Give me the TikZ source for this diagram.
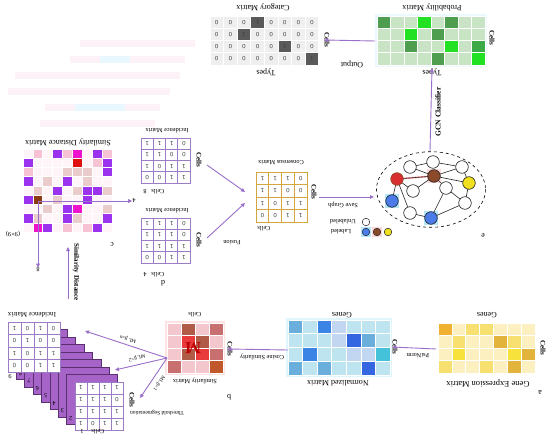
\documentclass[tikz,border=0pt]{standalone}
\usepackage{fontspec}
\setmainfont{Liberation Serif}
\newfontfamily\numfont{Liberation Sans}
\usetikzlibrary{arrows.meta,calc}
\definecolor{arr}{HTML}{9A6FC9}
\definecolor{catlight}{HTML}{EFEFEF}
\definecolor{catdark}{HTML}{5A5A5A}
\definecolor{pr0}{HTML}{C8E4C4}
\definecolor{pr1}{HTML}{4F9D4F}
\definecolor{pr2}{HTML}{22E022}
\definecolor{pr3}{HTML}{3DAA48}
\definecolor{sd0}{HTML}{FFF4F7}
\definecolor{sd1}{HTML}{9A32EE}
\definecolor{sd2}{HTML}{EE12CC}
\definecolor{sd3}{HTML}{F6C2D4}
\definecolor{sd4}{HTML}{EACCCC}
\definecolor{sd5}{HTML}{E01010}
\definecolor{sd6}{HTML}{8B3A12}
\definecolor{sm0}{HTML}{F4C6CE}
\definecolor{sm1}{HTML}{B05A48}
\definecolor{sm2}{HTML}{E83A3A}
\definecolor{sm3}{HTML}{C87070}
\definecolor{sm4}{HTML}{C0582C}
\definecolor{nm0}{HTML}{BEE4F0}
\definecolor{nm1}{HTML}{6AAEDC}
\definecolor{nm2}{HTML}{3A84E6}
\definecolor{nm3}{HTML}{C2D6F2}
\definecolor{nm4}{HTML}{3366E0}
\definecolor{nm5}{HTML}{44C2DA}
\definecolor{ge0}{HTML}{FDF0C0}
\definecolor{ge1}{HTML}{F0B030}
\definecolor{ge2}{HTML}{F8E070}
\definecolor{ge3}{HTML}{F7E23C}
\definecolor{ge4}{HTML}{E2B43C}
\definecolor{incb}{HTML}{9C7CC4}
\definecolor{conb}{HTML}{D4A640}
\definecolor{stk}{HTML}{A664C8}
\definecolor{stke}{HTML}{5A3070}
\definecolor{gblue}{HTML}{4A7BE8}
\definecolor{gbrown}{HTML}{8B4A2A}
\definecolor{gyellow}{HTML}{F0E020}
\definecolor{gred}{HTML}{D83030}
\newcommand\cgrid[6]{%
  \foreach \row [count=\j from 0] in {#6}{%
    \foreach \v [count=\i from 0] in \row {%
      \filldraw[fill=#5\v,draw=white,line width=0.7pt] ({#1+\i*#3},{#2+\j*#4}) rectangle ++(#3,#4);
    }}}
\newcommand\ngrid[7]{%
  \foreach \row [count=\j from 0] in {#7}{%
    \foreach \v [count=\i from 0] in \row {%
      \draw[draw=#6,fill=white,line width=0.6pt] ({#2+\i*#4},{#3+\j*#5}) rectangle ++(#4,#5);
      \node[num] (#1-\j-\i) at ({#2+(\i+0.5)*#4},{#3+(\j+0.5)*#5}) {\v};
    }}}
\begin{document}
\begin{tikzpicture}[x=1pt,y=-1pt,
  lbl/.style={rotate=180,font=\fontsize{8}{9}\selectfont,inner sep=0pt},
  slbl/.style={rotate=180,font=\fontsize{6.3}{7}\selectfont,inner sep=0pt},
  vlbl/.style={rotate=-90,font=\fontsize{7}{8}\selectfont\bfseries,inner sep=0pt},
  num/.style={rotate=180,font=\numfont\fontsize{6}{7}\selectfont,text=black!75,inner sep=0pt},
  flow/.style={draw=arr,line width=0.9pt,-{Triangle[length=4pt,width=3.6pt]}},
  gnode/.style={circle,draw=black!85,line width=0.6pt,minimum size=12.6pt,inner sep=0pt},
  lnode/.style={circle,draw=black!85,line width=0.5pt,minimum size=7.6pt,inner sep=0pt},
  gedge/.style={draw=black!85,line width=0.6pt}]
\useasboundingbox (0,0) rectangle (550,436);
\fill[white] (0,0) rectangle (550,436);

% faint ghost bars (top left)
\fill[magenta!5] (80,40) rectangle (195,47);
\fill[magenta!5] (70,56) rectangle (185,63);
\fill[cyan!9] (100,56) rectangle (130,63);
\fill[magenta!5] (15,72) rectangle (180,79);
\fill[magenta!5] (8,88) rectangle (170,95);
\fill[magenta!5] (45,104) rectangle (160,111);
\fill[cyan!9] (75,104) rectangle (125,111);
\fill[magenta!5] (40,120) rectangle (155,127);

% ---------- Category matrix ----------
\foreach \row [count=\j from 0] in {{0,0,0,1,0,0,0,0},{0,0,1,0,0,0,0,0},{0,0,0,0,0,1,0,0},{0,0,0,0,0,0,0,1}}{
  \foreach \v [count=\i from 0] in \row {
    \ifnum\v=1 \def\fc{catdark}\else\def\fc{catlight}\fi
    \filldraw[fill=\fc,draw=white,line width=0.8pt] ({210+\i*13.6},{16+\j*12.25}) rectangle ++(13.6,12.25);
    \node[num] (cat-\j-\i) at ({210+(\i+0.5)*13.6},{16+(\j+0.5)*12.25}) {\v};
  }}
\node[lbl] (catT) at (263,7) {Category Matrix};
\node[lbl] (catTy) at (266,72) {Types};
\node[vlbl] (catC) at (327,40) {Cells};
\node[lbl] (outL) at (352,64) {Output};

% ---------- Probability matrix ----------
\fill[cyan!8] (375,14) rectangle (487,67);
\cgrid{377}{16}{13.5}{12.25}{pr}{{1,0,0,2,0,1,0,0},{0,0,2,0,1,0,0,0},{0,0,1,0,0,2,0,3},{0,0,0,0,1,0,0,2}}
\node[lbl] (prT) at (432,7) {Probability Matrix};
\node[lbl] (prTy) at (432,72) {Types};
\node[vlbl] (prC) at (492,38) {Cells};
\coordinate (prL) at (375,41);
\draw[flow] (prL) -- (catC.south);

% ---------- Graph e ----------
\coordinate (gcnS) at (430,151);
\draw[flow] (gcnS) -- (prTy.south);
\node[rotate=90,font=\fontsize{7.5}{8}\selectfont\bfseries,inner sep=0pt] (gcnL) at (438,112) {GCN Classifier};
\draw[dashed,line width=0.6pt] (431,189.5) ellipse [x radius=54.5,y radius=37.8];
\fill[pink!60] (427,169) rectangle (441,183);
\fill[cyan!30] (385,194) rectangle (399,208);
\fill[cyan!30] (424,211) rectangle (438,225);
\coordinate (n1) at (410,167);
\coordinate (n2) at (433,162);
\coordinate (n3) at (462,167);
\coordinate (nr) at (397,179);
\coordinate (nb) at (434,176);
\coordinate (ny) at (469,183);
\coordinate (n5) at (413,191);
\coordinate (n6) at (446,188);
\coordinate (nl1) at (392,201);
\coordinate (n4) at (410,213);
\coordinate (n7) at (465,203);
\coordinate (nl2) at (431,218);
\draw[pink!80!red,line width=1.6pt] (nr) -- (nb);
\draw[gedge] (n1)--(n2) (n2)--(n3) (n1)--(nb) (nr)--(nb) (nr)--(nl1) (nr)--(n4) (nr)--(n5)
  (nb)--(n5) (nb)--(ny) (n3)--(ny) (n3)--(nb) (ny)--(n7) (n6)--(nl2) (n4)--(nl2) (n7)--(nl2) (nb)--(n6) (n6)--(n7);
\node[gnode,fill=white] (g1) at (n1) {};
\node[gnode,fill=white] (g2) at (n2) {};
\node[gnode,fill=white] (g3) at (n3) {};
\node[gnode,fill=gred,draw=gbrown] (gr) at (nr) {};
\node[gnode,fill=gbrown] (gb) at (nb) {};
\node[gnode,fill=gyellow] (gy) at (ny) {};
\node[gnode,fill=white] (g5) at (n5) {};
\node[gnode,fill=white] (g6) at (n6) {};
\node[gnode,fill=gblue] (gl1) at (nl1) {};
\node[gnode,fill=white] (g4) at (n4) {};
\node[gnode,fill=white] (g7) at (n7) {};
\node[gnode,fill=gblue] (gl2) at (nl2) {};
\node[lbl] (eL) at (483,235) {e};
% legend
\fill[cyan!30] (361,227) rectangle (371,237);
\fill[pink!60] (372,227) rectangle (382,237);
\node[lnode,fill=white] (lu) at (366,222) {};
\node[lnode,fill=gblue] (lb) at (366,232) {};
\node[lnode,fill=gbrown] (lbr) at (377,232) {};
\node[lnode,fill=gyellow] (ly) at (388,232) {};
\node[slbl] (luT) at (343,222) {Unlabeled};
\node[slbl] (lbT) at (341,232) {Labeled};

% ---------- Consensus matrix ----------
\ngrid{con}{256}{172}{12.75}{12.5}{conb}{{1,1,1,0},{1,1,0,0},{1,0,1,1},{0,0,1,1}}
\node[slbl] (conT) at (281,163) {Consensus Matrix};
\node[slbl] (conB) at (264,229) {Cells};
\node[vlbl] (conC) at (314,192) {Cells};
\coordinate (ellL) at (374,197);
\draw[flow] ($(conC.north)+(2,5)$) -- (ellL);
\node[slbl] (saveL) at (343,205) {Save Graph};

% ---------- Incidence matrices d ----------
\ngrid{inA}{141}{138}{12.25}{11.25}{incb}{{1,1,1,0},{1,1,0,0},{1,0,1,1},{0,0,1,1}}
\node[slbl] (inAT) at (167,131) {Incidence Matrix};
\node[vlbl] (inAC) at (199,160) {Cells};
\node[slbl] (inAB) at (158,192) {Cells};
\node[slbl] (inAN) at (145,192) {8};
\ngrid{inB}{141}{218}{12.25}{11.25}{incb}{{1,1,1,0},{1,1,1,0},{1,1,1,1},{0,0,1,1}}
\node[slbl] (inBT) at (167,211) {Incidence Matrix};
\node[vlbl] (inBC) at (199,240) {Cells};
\node[slbl] (inBB) at (158,275) {Cells};
\node[slbl] (inBN) at (145,275) {4};
\node[lbl] (dL) at (163,283) {d};
\coordinate (conIn1) at (245,192);
\coordinate (conIn2) at (245,203);
\draw[flow] (207,165) -- (conIn1);
\draw[flow] (207,238) -- (conIn2);
\node[slbl] (fusL) at (232,243) {Fusion};

% ---------- Similarity distance matrix c ----------
\cgrid{23}{149}{9.9}{9.25}{sd}{{0,3,0,1,3,2,0,1,3},{1,0,0,0,0,5,0,3,1},{3,0,0,0,4,4,4,0,1},{1,0,4,0,1,0,4,0,0},{0,4,0,1,0,4,1,1,4},{1,6,0,4,0,0,1,0,0},{0,0,4,0,1,2,0,0,4},{1,4,0,0,1,4,0,0,1},{0,2,1,0,3,0,3,1,0}}
\node[lbl] (sdT) at (68,142) {Similarity Distance Matrix};
\coordinate (sdc) at (38,201);
\node[slbl] (sd4) at (134,201) {4};
\node[slbl] (sd8) at (38,270) {8};
\draw[flow] (sdc) -- (sd4.east);
\draw[flow] (sdc) -- (sd8.south);
\node[slbl] (sd99) at (13,234) {(9×9)};
\node[lbl] (cL) at (112,244) {c};

% ---------- Stack (threshold segmentation) ----------
\foreach \k in {8,7,...,2} {
  \pgfmathsetmacro\lx{8+(9-\k)*8.375}
  \pgfmathsetmacro\ly{322+(9-\k)*7.5}
  \filldraw[fill=stk,draw=stke,line width=0.6pt] (\lx,\ly) rectangle ++(51,50);
  \node[slbl] (lay\k) at (\lx+4.2,\ly+44) {\k};
}
\ngrid{m1}{75}{382}{12}{12}{incb}{{1,1,1,1},{1,1,1,0},{1,1,1,1},{1,0,1,1}}
\ngrid{m9}{8}{322}{13}{12.5}{incb}{{1,0,1,0},{0,1,0,0},{1,0,1,1},{0,0,1,1}}
\node[slbl] (lay9) at (10,377) {9};
\node[lbl,font=\fontsize{7}{8}\selectfont] (m9T) at (32,315) {Incidence Matrix};
\node[vlbl] (m1C) at (132,400) {Cells};
\node[slbl] (m1B) at (98,432) {Cells};
\node[slbl] (m1N) at (82,432) {1};
\node[rotate=180,font=\fontsize{5.5}{6}\selectfont,inner sep=0pt] (thrL) at (157,413) {Threshold Segmentation};
\coordinate (sdarrS) at (68,299);
\coordinate (sdarrE) at (68,247);
\draw[flow] (sdarrS) -- (sdarrE);
\node[rotate=-90,font=\fontsize{7}{8}\selectfont\bfseries,inner sep=0pt] (sdaL) at (76,272) {Similarity Distance};

% ---------- Similarity matrix b ----------
\fill[pink!45] (165,321) rectangle (225,375);
\cgrid{167}{323}{14}{12.5}{sm}{{0,1,0,3},{0,2,1,0},{0,1,2,3},{3,0,0,4}}
\node[rotate=180,font=\fontsize{17}{18}\selectfont\bfseries,text=red!75!black,inner sep=0pt] (bigM) at (193,348) {M};
\node[slbl] (smT) at (195,381) {Similarity Matrix};
\node[slbl] (smTop) at (195,315) {Cells};
\node[vlbl] (smC) at (230,349) {Cells};
\node[lbl] (bL) at (229,397) {b};
\coordinate (smOut) at (167,358);
\coordinate (toM9) at (85,331);
\coordinate (toL2) at (115,370);
\coordinate (toM1) at (140,398);
\draw[flow] (smOut) -- (toM9);
\draw[flow] (smOut) -- (toL2);
\draw[flow] (smOut) -- (toM1);
\node[rotate=161.8,font=\fontsize{5}{6}\selectfont,inner sep=0pt] (mln) at (128,339) {ML β=n};
\node[rotate=193,font=\fontsize{5}{6}\selectfont,inner sep=0pt] (ml2) at (137,358) {ML β=2};
\node[rotate=236,font=\fontsize{5}{6}\selectfont,inner sep=0pt] (ml1) at (159,383) {ML β=1};

% ---------- Normalized matrix ----------
\fill[cyan!12] (286,318) rectangle (392,377);
\cgrid{288}{320}{14.6}{13.75}{nm}{{1,0,2,3,0,0,0},{0,0,0,3,4,1,0},{0,2,0,0,3,3,5},{1,0,1,0,0,4,0}}
\node[lbl] (nmT) at (338,383) {Normalized Matrix};
\node[lbl] (nmG) at (342,315) {Genes};
\node[vlbl] (nmC) at (395,347) {Cells};
\coordinate (nmL) at (288,350);
\draw[flow] (nmL) -- (smC.south);
\node[slbl] (cosL) at (262,357) {Cosine Similarity};

% ---------- Gene expression matrix a ----------
\cgrid{438}{323}{13.9}{12.5}{ge}{{1,0,2,2,0,0,0},{0,2,0,0,4,2,0},{0,3,0,0,0,3,4},{2,0,0,2,0,4,0}}
\node[lbl,font=\fontsize{8.5}{9}\selectfont] (geT) at (488,383) {Gene Expression Matrix};
\node[lbl] (geG) at (487,315) {Genes};
\node[vlbl] (geC) at (543,348) {Cells};
\node[lbl] (aL) at (540,392) {a};
\coordinate (geL) at (436,349);
\draw[flow] (geL) -- (nmC.south);
\node[slbl] (psiL) at (418,356) {PsiNorm};
\end{tikzpicture}
\end{document}
